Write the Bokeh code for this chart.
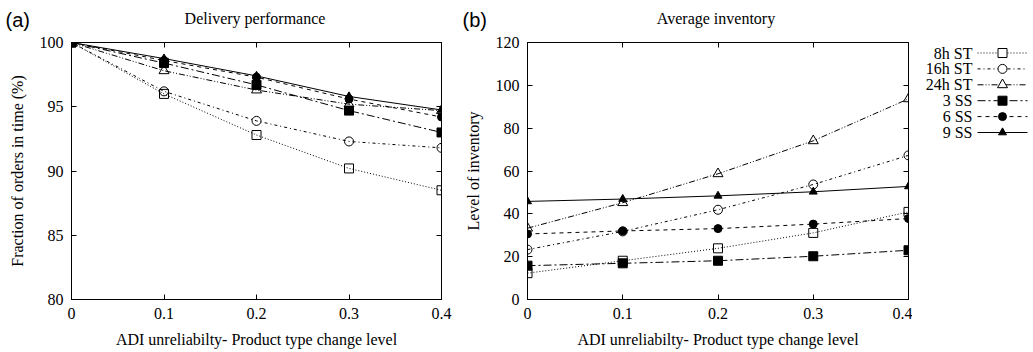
from bokeh.plotting import figure
from bokeh.layouts import row, column
from bokeh.models import Range1d, FixedTicker, LinearAxis, CustomJSTickFormatter
from bokeh.core.properties import value
from bokeh.embed import file_html
from bokeh.resources import INLINE

# ---------------- data ----------------
x_levels = [0.0, 0.1, 0.2, 0.3, 0.4]
series_names = ["8h ST", "16h ST", "24h ST", "3 SS", "6 SS", "9 SS"]

delivery_8h_st = [100.0, 96.0, 92.8, 90.2, 88.5]
delivery_16h_st = [100.0, 96.2, 93.9, 92.3, 91.8]
delivery_24h_st = [100.0, 97.8, 96.3, 95.2, 94.7]
delivery_3_ss = [100.0, 98.4, 96.7, 94.7, 93.0]
delivery_6_ss = [100.0, 98.6, 97.3, 95.6, 94.2]
delivery_9_ss = [100.0, 98.75, 97.4, 95.8, 94.75]

inventory_8h_st = [12.3, 18.1, 23.9, 31.1, 40.9]
inventory_16h_st = [23.3, 31.8, 41.9, 53.7, 67.3]
inventory_24h_st = [33.3, 45.2, 58.7, 74.1, 93.7]
inventory_3_ss = [15.8, 16.9, 18.1, 20.2, 23.0]
inventory_6_ss = [30.6, 32.0, 33.1, 35.2, 37.8]
inventory_9_ss = [45.8, 46.9, 48.4, 50.3, 52.8]

x_ticks = [0, 0.1, 0.2, 0.3, 0.4]
x_tick_labels = ["0", "0.1", "0.2", "0.3", "0.4"]
delivery_ticks = [80, 85, 90, 95, 100]
inventory_ticks = [0, 20, 40, 60, 80, 100, 120]

panel_titles = ["Delivery performance", "Average inventory"]
panel_letters = ["(a)", "(b)"]

delivery = [delivery_8h_st, delivery_16h_st, delivery_24h_st, delivery_3_ss, delivery_6_ss, delivery_9_ss]
inventory = [inventory_8h_st, inventory_16h_st, inventory_24h_st, inventory_3_ss, inventory_6_ss, inventory_9_ss]

# ---------------- styles / layout ----------------
SERIF = "Liberation Serif"
HEADER_H = 31
TOP = 11
FRAME_H = 257
BOTTOM = 52
P1_LEFT, P1_FRAME_W, P1_RIGHT = 71, 370, 19
P2_LEFT, P2_FRAME_W, P2_RIGHT = 67, 381, 4
LEG_W = 118
P1_W = P1_LEFT + P1_FRAME_W + P1_RIGHT
P2_W = P2_LEFT + P2_FRAME_W + P2_RIGHT
TOTAL_W = P1_W + P2_W + LEG_W

styles = [
    dict(dash="1 2", marker="square", size=9, fill=None),
    dict(dash="3 3 1 3", marker="circle", size=9, fill=None),
    dict(dash="6 2 1 2 1 2", marker="triangle", size=10, fill=None),
    dict(dash="8 3 2 3", marker="square", size=9, fill="black"),
    dict(dash="4 4", marker="circle", size=8, fill="black"),
    dict(dash="solid", marker="triangle", size=8, fill="black"),
]


def style_axis(ax, labels=True):
    ax.axis_line_color = "black"
    ax.major_tick_line_color = "black"
    ax.major_tick_in = 5
    ax.major_tick_out = 0
    ax.minor_tick_line_color = None
    ax.major_label_text_font = SERIF
    ax.major_label_text_font_size = "16px"
    ax.major_label_text_color = "black"
    ax.axis_label_text_font = SERIF
    ax.axis_label_text_font_size = "16px"
    ax.axis_label_text_font_style = "normal"
    ax.axis_label_text_color = "black"
    if not labels:
        ax.formatter = CustomJSTickFormatter(code="return ''")
        ax.major_label_standoff = 0
        ax.major_label_text_font_size = "1px"


def make_panel(ylabel, yrange, yticks, data, border_left, border_right, frame_w):
    p = figure(frame_width=frame_w, frame_height=FRAME_H, output_backend="svg", toolbar_location=None,
               x_range=Range1d(0, 0.4), y_range=Range1d(*yrange),
               min_border_left=border_left, min_border_right=border_right,
               min_border_top=TOP, min_border_bottom=BOTTOM)
    p.grid.visible = False
    p.outline_line_color = "black"
    p.background_fill_color = "white"
    p.border_fill_color = "white"

    p.xaxis.ticker = FixedTicker(ticks=x_ticks)
    p.xaxis.major_label_overrides = {t: l for t, l in zip(x_ticks, x_tick_labels)}
    p.xaxis.axis_label = "ADI unreliabilty- Product type change level"
    p.xaxis.major_label_standoff = 8
    p.xaxis.axis_label_standoff = 9
    p.yaxis.ticker = FixedTicker(ticks=yticks)
    p.yaxis.axis_label = ylabel
    p.yaxis.major_label_standoff = 8
    p.yaxis.axis_label_standoff = 11
    for ax in p.xaxis + p.yaxis:
        style_axis(ax)

    top = LinearAxis(ticker=FixedTicker(ticks=x_ticks))
    style_axis(top, labels=False)
    p.add_layout(top, "above")
    right = LinearAxis(ticker=FixedTicker(ticks=yticks))
    style_axis(right, labels=False)
    p.add_layout(right, "right")

    for ys, st in zip(data, styles):
        p.line(x_levels, ys, line_color="black", line_width=1, line_dash=st["dash"])
        p.scatter(x_levels, ys, marker=st["marker"], size=st["size"],
                  line_color="black", line_width=1, fill_color=st["fill"])
    return p


p1 = make_panel("Fraction of orders in time (%)", (80, 100), delivery_ticks, delivery,
                P1_LEFT, P1_RIGHT, P1_FRAME_W)
p2 = make_panel("Level of inventory", (0, 120), inventory_ticks, inventory,
                P2_LEFT, P2_RIGHT, P2_FRAME_W)

# header strip with panel letters and titles (data units = page pixels)
hdr = figure(width=TOTAL_W, height=HEADER_H, output_backend="svg", toolbar_location=None,
             x_range=Range1d(0, TOTAL_W), y_range=Range1d(HEADER_H, 0),
             x_axis_type=None, y_axis_type=None, min_border=0)
hdr.grid.visible = False
hdr.outline_line_color = None
title_x = [P1_LEFT + P1_FRAME_W / 2 - 1.5, P1_W + P2_LEFT + P2_FRAME_W / 2 - 2]
hdr.text(x=title_x, y=[18, 18], text=panel_titles, text_align="center", text_baseline="middle",
         text_font=value(SERIF), text_font_size="16px", text_color="black")
hdr.text(x=[5, P1_W + 2], y=[19, 19], text=panel_letters, text_align="left", text_baseline="middle",
         text_font=value("Liberation Sans"), text_font_size="20px", text_color="black")

# legend panel: same frame geometry as the plots, data units = page pixels
FRAME_TOP = HEADER_H + TOP
LEG_X0 = P1_W + P2_W
leg = figure(frame_width=LEG_W, frame_height=FRAME_H, output_backend="svg", toolbar_location=None,
             x_range=Range1d(LEG_X0, LEG_X0 + LEG_W), y_range=Range1d(FRAME_TOP + FRAME_H, FRAME_TOP),
             x_axis_type=None, y_axis_type=None, min_border_left=0, min_border_right=0,
             min_border_top=TOP, min_border_bottom=BOTTOM)
leg.grid.visible = False
leg.outline_line_color = None
rows_y = [52.5, 68.4, 84.3, 100.2, 116.1, 132.0]
leg.text(x=[972] * 6, y=rows_y, text=series_names, text_align="right", text_baseline="middle",
         text_font=value(SERIF), text_font_size="16px", text_color="black")
for yy, st in zip(rows_y, styles):
    leg.line([977, 1027], [yy, yy], line_color="black", line_width=1, line_dash=st["dash"])
    leg.scatter([1002], [yy], marker=st["marker"], size=st["size"], line_color="black",
                fill_color=st["fill"] if st["fill"] else "white")

layout = column(hdr, row(p1, p2, leg, spacing=0), spacing=0)
open("out.html", "w").write(file_html(layout, INLINE))
